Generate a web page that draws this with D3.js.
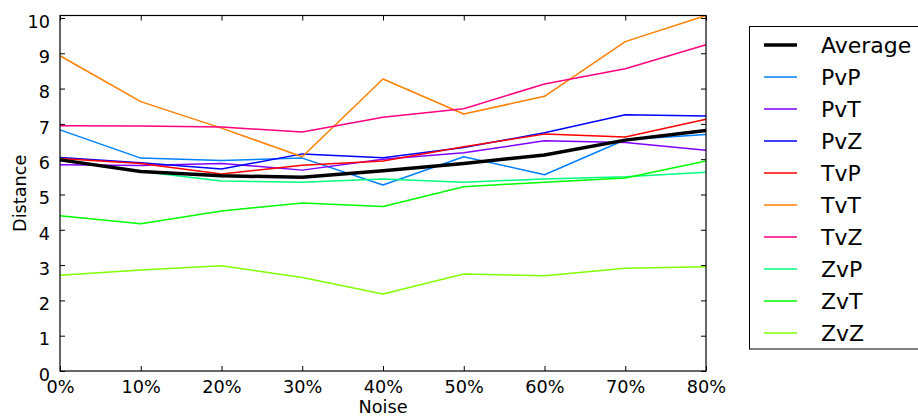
<!DOCTYPE html>
<html>
<head>
<meta charset="utf-8">
<script src="https://cdn.jsdelivr.net/npm/d3@7"></script>
<style>
  html, body { margin: 0; padding: 0; background: #fff; }
  svg { display: block; font-family: "DejaVu Sans", sans-serif; }
</style>
</head>
<body>
<svg id="chart" width="918" height="418"></svg>
<script>
// Noise levels (percent) on the x axis
const noise = [0, 10, 20, 30, 40, 50, 60, 70, 80];
const yTicks = [0, 1, 2, 3, 4, 5, 6, 7, 8, 9, 10];

// Distance per matchup at each noise level
const average = [5.98, 5.65, 5.53, 5.49, 5.67, 5.88, 6.12, 6.54, 6.81];
const PvP = [6.83, 6.03, 5.96, 6.03, 5.27, 6.07, 5.56, 6.55, 6.70];
const PvT = [5.84, 5.82, 5.88, 5.69, 6.00, 6.18, 6.52, 6.47, 6.25];
const PvZ = [6.05, 5.90, 5.72, 6.15, 6.04, 6.33, 6.75, 7.26, 7.22];
const TvP = [6.02, 5.88, 5.58, 5.83, 5.95, 6.35, 6.71, 6.63, 7.13];
const TvT = [8.93, 7.63, 6.88, 6.07, 8.27, 7.28, 7.78, 9.33, 10.07];
const TvZ = [6.95, 6.94, 6.91, 6.77, 7.19, 7.43, 8.13, 8.56, 9.24];
const ZvP = [6.00, 5.65, 5.38, 5.35, 5.44, 5.35, 5.44, 5.50, 5.63];
const ZvT = [4.40, 4.17, 4.53, 4.76, 4.66, 5.22, 5.35, 5.47, 5.95];
const ZvZ = [2.71, 2.86, 2.98, 2.65, 2.18, 2.75, 2.70, 2.91, 2.95];

const series = [
  { name: "PvP", values: PvP, color: "#0080ff" },
  { name: "PvT", values: PvT, color: "#8000ff" },
  { name: "PvZ", values: PvZ, color: "#0000ff" },
  { name: "TvP", values: TvP, color: "#ff0000" },
  { name: "TvT", values: TvT, color: "#ff8000" },
  { name: "TvZ", values: TvZ, color: "#ff0080" },
  { name: "ZvP", values: ZvP, color: "#00ff80" },
  { name: "ZvT", values: ZvT, color: "#00ff00" },
  { name: "ZvZ", values: ZvZ, color: "#80ff00" }
];
const avgSeries = { name: "Average", values: average, color: "#000000" };

const svg = d3.select("#chart");
const plot = { left: 60, right: 706, top: 15.5, bottom: 371 };

const yMax = d3.max(series, s => d3.max(s.values));
const x = d3.scaleLinear().domain([0, 80]).range([plot.left, plot.right]);
const y = d3.scaleLinear().domain([0, yMax]).range([plot.bottom, plot.top]);

const fontSize = 17.7;

// Inward ticks on all four sides
const tickLen = 5;
const axisStyle = g => {
  g.select(".domain").remove();
  g.selectAll(".tick line").attr("stroke", "#000").attr("stroke-width", 1);
};

svg.append("g")
  .attr("transform", `translate(0,${plot.bottom})`)
  .call(d3.axisBottom(x).tickValues(noise).tickSize(-tickLen).tickFormat(d => d + "%").tickPadding(9))
  .call(axisStyle)
  .call(g => g.selectAll("text").attr("font-size", fontSize).attr("fill", "#000")
    .attr("font-family", "DejaVu Sans"));

svg.append("g")
  .attr("transform", `translate(0,${plot.top})`)
  .call(d3.axisTop(x).tickValues(noise).tickSize(-tickLen).tickFormat(""))
  .call(axisStyle);

svg.append("g")
  .attr("transform", `translate(${plot.left},0)`)
  .call(d3.axisLeft(y).tickValues(yTicks).tickSize(-tickLen).tickPadding(10))
  .call(axisStyle)
  .call(g => g.selectAll("text").attr("font-size", fontSize).attr("fill", "#000")
    .attr("font-family", "DejaVu Sans").attr("dy", "0.52em"));

svg.append("g")
  .attr("transform", `translate(${plot.right},0)`)
  .call(d3.axisRight(y).tickValues(yTicks).tickSize(-tickLen).tickFormat(""))
  .call(axisStyle);

// Lines
const line = d3.line()
  .x((d, i) => x(noise[i]))
  .y(d => y(d));

const lines = svg.append("g");
series.forEach(s => {
  lines.append("path")
    .datum(s.values)
    .attr("fill", "none")
    .attr("stroke", s.color)
    .attr("stroke-width", 1.5)
    .attr("stroke-linejoin", "round")
    .attr("d", line);
});
lines.append("path")
  .datum(avgSeries.values)
  .attr("fill", "none")
  .attr("stroke", avgSeries.color)
  .attr("stroke-width", 3.5)
  .attr("stroke-linejoin", "round")
  .attr("d", line);

// Plot frame
svg.append("rect")
  .attr("x", plot.left).attr("y", plot.top)
  .attr("width", plot.right - plot.left).attr("height", plot.bottom - plot.top)
  .attr("fill", "none").attr("stroke", "#000").attr("stroke-width", 1.2);

// Axis titles
svg.append("text")
  .attr("x", (plot.left + plot.right) / 2).attr("y", 413)
  .attr("text-anchor", "middle").attr("font-size", fontSize)
  .text("Noise");

svg.append("text")
  .attr("transform", `translate(26,${(plot.top + plot.bottom) / 2}) rotate(-90)`)
  .attr("text-anchor", "middle").attr("font-size", fontSize)
  .text("Distance");

// Legend
const legend = svg.append("g");
legend.append("rect")
  .attr("x", 749.5).attr("y", 26.5).attr("width", 200).attr("height", 322.5)
  .attr("fill", "#fff").attr("stroke", "#000").attr("stroke-width", 1);

const legendItems = [avgSeries, ...series];
legendItems.forEach((s, i) => {
  const cy = 45 + i * 32;
  legend.append("line")
    .attr("x1", 764).attr("x2", 797).attr("y1", cy).attr("y2", cy)
    .attr("stroke", s.color)
    .attr("stroke-width", s === avgSeries ? 3.5 : 1.5);
  legend.append("text")
    .attr("x", 821).attr("y", cy).attr("dy", "0.36em")
    .attr("font-size", 22).attr("fill", "#000")
    .text(s.name);
});
</script>
</body>
</html>
